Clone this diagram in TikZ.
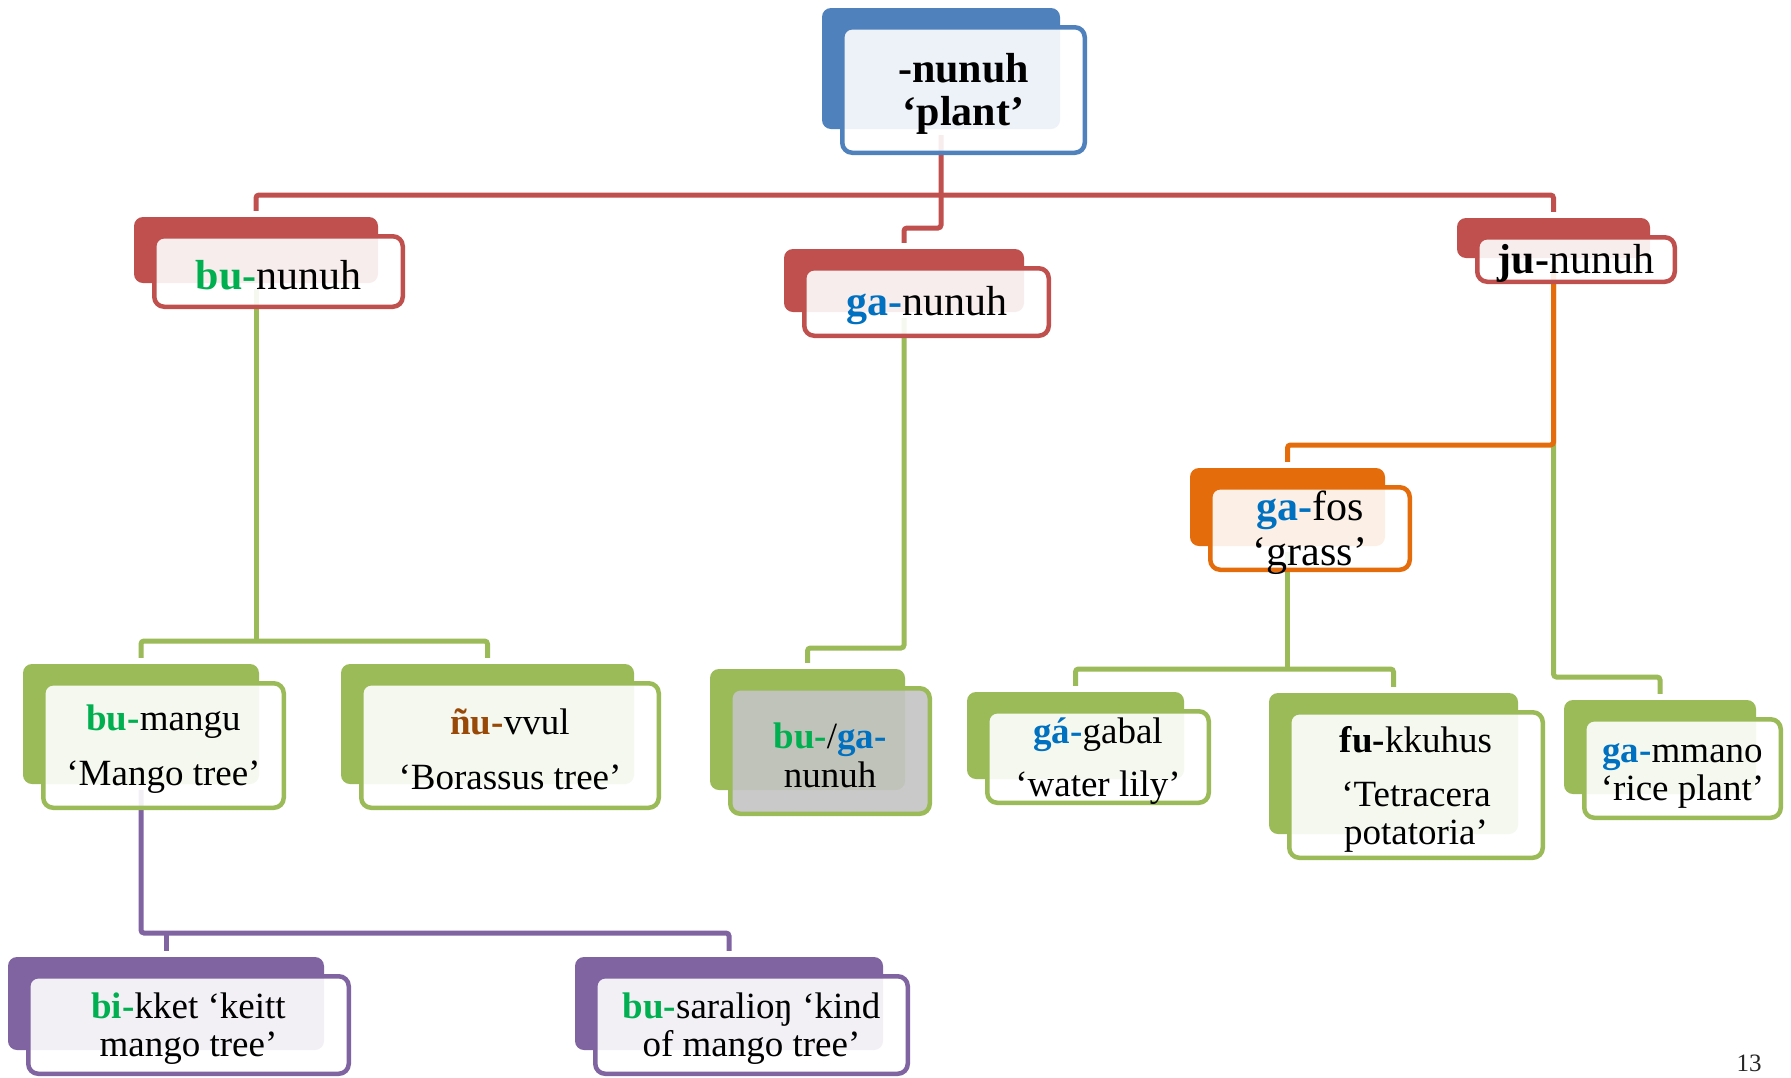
\documentclass[tikz,border=0pt]{standalone}
\usepackage{fontspec}
\setmainfont{Liberation Serif}
\usetikzlibrary{calc,backgrounds}
\definecolor{cBlue}{HTML}{4F81BD}
\definecolor{cRed}{HTML}{C0504D}
\definecolor{cGreen}{HTML}{9BBB59}
\definecolor{cOrange}{HTML}{E46C0A}
\definecolor{cPurple}{HTML}{8064A2}
\definecolor{tGreen}{HTML}{00B050}
\definecolor{tBlue}{HTML}{0070C0}
\definecolor{tBrown}{HTML}{984807}
\definecolor{cGray}{HTML}{C4C4C4}
\tikzset{
 backbox/.style={fill=#1, rounded corners=9pt, inner sep=0pt, draw=none},
 frontbox/.style={draw=#1, line width=4.5pt, fill opacity=0.9, rounded corners=10pt, inner sep=0pt},
 conn/.style={draw=#1, line width=5pt, rounded corners=3pt},
 lab/.style={inner sep=0pt, align=center, text=black, yshift=-4pt},
 big/.style={font=\fontsize{42}{44}\selectfont},
 small/.style={font=\fontsize{37}{38}\selectfont},
}
\newcommand\pairbox[7]{%
  \node[backbox=#2, minimum width={#5-#3-9}, minimum height={#6-#4-9}] (#1B) at ({(#3+#5)/2-22.5},{(#4+#6)/2-21.5}) {};
  \node[frontbox=#2, fill=#7, minimum width={#5-#3-4.5}, minimum height={#6-#4-4.5}] (#1) at ({(#3+#5)/2},{(#4+#6)/2}) {};
}
\newcommand\pgr[1]{\textcolor{tGreen}{\textbf{#1}}}
\newcommand\pbl[1]{\textcolor{tBlue}{\textbf{#1}}}
\begin{document}
\begin{tikzpicture}[x=1pt,y=-1pt]
\useasboundingbox (0,0) rectangle (1791,1077);
% boxes
\pairbox{top}{cBlue}{840}{25}{1087}{155}{white}
\pairbox{bun}{cRed}{152}{234}{405}{309}{white}
\pairbox{gan}{cRed}{802}{266}{1051}{338}{white}
\pairbox{jun}{cRed}{1475}{235}{1677}{284}{white}
\pairbox{gafos}{cOrange}{1208}{485}{1412}{572}{white}
\pairbox{bumangu}{cGreen}{41}{681}{286}{810}{white}
\pairbox{nuvvul}{cGreen}{359}{681}{661}{810}{white}
\pairbox{buga}{cGreen}{728}{686}{932}{816}{cGray}
\pairbox{gagabal}{cGreen}{985}{709}{1211}{805}{white}
\pairbox{fukkuhus}{cGreen}{1287}{710}{1545}{860}{white}
\pairbox{gammano}{cGreen}{1582}{717}{1783}{820}{white}
\pairbox{bikket}{cPurple}{26}{974}{351}{1076}{white}
\pairbox{busaralion}{cPurple}{593}{974}{910}{1076}{white}
% labels
\node[lab,font=\fontsize{42}{43}\selectfont] (topT) at (top.center) {\textbf{-nunuh}\\\textbf{‘plant’}};
\node[lab,big] (bunT) at (bun.center) {\pgr{bu-}nunuh};
\node[lab,big] (ganT) at (gan.center) {\pbl{ga-}nunuh};
\node[lab,big] (junT) at (jun.center) {\textbf{ju-}nunuh};
\node[lab,font=\fontsize{42}{45}\selectfont] (gafosT) at (gafos.center) {\pbl{ga-}fos\\‘grass’};
\node[lab,small] (bumanguT) at (bumangu.center) {\pgr{bu-}mangu\\[17pt]‘Mango tree’};
\node[lab,small] (nuvvulT) at (nuvvul.center) {\textcolor{tBrown}{\textbf{ñu-}}vvul\\[17pt]‘Borassus tree’};
\node[lab,small,font=\fontsize{37}{39}\selectfont] (bugaT) at (buga.center) {\pgr{bu-}/\pbl{ga-}\\nunuh};
\node[lab,small] (gagabalT) at (gagabal.center) {\pbl{gá-}gabal\\[15pt]‘water lily’};
\node[lab,small] (fukkuhusT) at (fukkuhus.center) {\textbf{fu-}kkuhus\\[16pt]‘Tetracera\\potatoria’};
\node[lab,small,yshift=-3pt] (gammanoT) at (gammano.center) {\pbl{ga-}mmano\\‘rice plant’};
\node[lab,small] (bikketT) at (bikket.center) {\pgr{bi-}kket ‘keitt\\mango tree’};
\node[lab,small] (busaralionT) at (busaralion.center) {\pgr{bu-}saralioŋ ‘kind\\of mango tree’};
\node[inner sep=0pt,font=\fontsize{25}{25}\selectfont,text=black!85] (pg) at (1749,1063) {13};
% connectors
\coordinate (yR) at (0,195);
\coordinate (yGA) at (0,228);
\coordinate (yG1) at (0,641);
\coordinate (yG2) at (0,648);
\coordinate (yO) at (0,445);
\coordinate (yG3) at (0,677);
\coordinate (yG4) at (0,669);
\coordinate (yP) at (0,933);
\begin{scope}[on background layer]
\fill[white] (0,0) rectangle (1791,1077);
\draw[conn=cRed] ([yshift=6pt]bunB.north) -- (bunB.north |- yR) -- (junB.north |- yR) -- ([yshift=6pt]junB.north);
\draw[conn=cRed] ([yshift=-6pt]topB.south) -- (topB.south |- yGA) -- (ganB.north |- yGA) -- ([yshift=6pt]ganB.north);
\draw[conn=cGreen] ([yshift=-6pt]bunB.south) -- (bunB.south |- yG1);
\draw[conn=cGreen] ([yshift=6pt]bumanguB.north) -- (bumanguB.north |- yG1) -- (nuvvulB.north |- yG1) -- ([yshift=6pt]nuvvulB.north);
\draw[conn=cGreen] ([yshift=-6pt]ganB.south) -- (ganB.south |- yG2) -- (bugaB.north |- yG2) -- ([yshift=6pt]bugaB.north);
\draw[conn=cGreen] ([yshift=-6pt]junB.south) -- (junB.south |- yG3) -- (gammanoB.north |- yG3) -- ([yshift=6pt]gammanoB.north);
\draw[conn=cOrange] ([yshift=-6pt]junB.south) -- (junB.south |- yO) -- (gafosB.north |- yO) -- ([yshift=6pt]gafosB.north);
\draw[conn=cGreen] ([yshift=-6pt]gafosB.south) -- (gafosB.south |- yG4);
\draw[conn=cGreen] ([yshift=6pt]gagabalB.north) -- (gagabalB.north |- yG4) -- (fukkuhusB.north |- yG4) -- ([yshift=6pt]fukkuhusB.north);
\draw[conn=cPurple] ([yshift=-6pt]bumanguB.south) -- (bumanguB.south |- yP) -- (busaralionB.north |- yP) -- ([yshift=6pt]busaralionB.north);
\draw[conn=cPurple] (bikketB.north |- yP) -- ([yshift=6pt]bikketB.north);
\end{scope}
\end{tikzpicture}
\end{document}
